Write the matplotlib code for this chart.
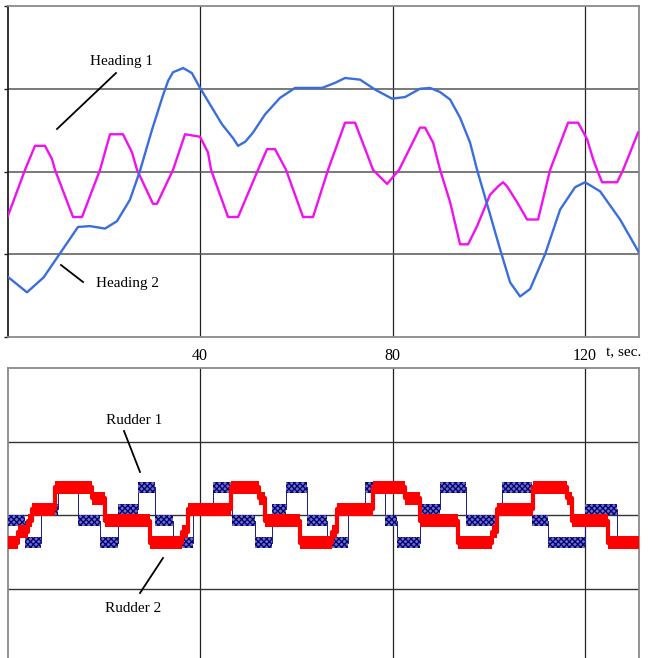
import numpy as np
import matplotlib.pyplot as plt

plt.rcParams['hatch.linewidth'] = 0.9

# Heading curves, t in sec, values in grid units
h1_t = [0, 3.64, 5.71, 7.79, 9.25, 9.87, 13.61, 15.48, 19.22, 21.3, 24.0, 25.87, 26.91,
        30.23, 31.06, 34.39, 36.88, 40.0, 41.66, 42.29, 45.82, 47.9, 52.05, 53.92, 55.58,
        57.87, 61.4, 63.48, 66.6, 70.13, 72.21, 75.95, 78.86, 81.35, 85.71, 86.75, 88.42,
        89.87, 91.95, 94.03, 95.69, 97.56, 100.26, 101.92, 102.96, 103.79, 105.87, 107.95,
        110.23, 112.73, 116.47, 118.55, 120.42, 121.66, 122.49, 123.53, 126.65, 127.9, 131.01]
h1_v = [-0.55, 0.02, 0.31, 0.31, 0.15, 0.02, -0.55, -0.55, 0.02, 0.45, 0.45, 0.23, 0.02,
        -0.39, -0.39, 0.02, 0.45, 0.42, 0.23, 0.02, -0.55, -0.55, 0.02, 0.27, 0.27,
        0.02, -0.55, -0.55, 0.02, 0.59, 0.59, 0.02, -0.15, 0.02, 0.53, 0.53, 0.35,
        0.02, -0.37, -0.88, -0.88, -0.66, -0.28, -0.18, -0.13, -0.18, -0.37, -0.58,
        -0.58, 0.02, 0.59, 0.59, 0.39, 0.15, 0.02, -0.13, -0.13, 0.02, 0.47]

h2_t = [0, 4.05, 7.5, 10.9, 14.65, 17.14, 20.26, 22.75, 25.45, 27.53, 30.0, 32.3, 33.4, 34.4,
        36.5, 38.3, 40.0, 42.08, 44.57, 46.9, 47.9, 49.4, 51.0, 53.51, 56.62, 59.74, 65.35,
        68.0, 70.13, 73.25, 76.36, 79.9, 82.6, 85.71, 87.79, 89.87, 91.95, 94.03, 96.1, 97.56,
        100.26, 102.34, 104.42, 106.49, 108.57, 111.69, 114.81, 117.92, 120.0, 123.12,
        127.27, 131.2]
h2_v = [-1.27, -1.46, -1.28, -0.99, -0.67, -0.66, -0.69, -0.6, -0.34, 0.01, 0.5, 0.92, 1.1,
        1.2, 1.25, 1.19, 1.01, 0.81, 0.57, 0.4, 0.31, 0.36, 0.47, 0.69, 0.89, 1.01, 1.01,
        1.07, 1.13, 1.11, 0.99, 0.88, 0.9, 1.0, 1.01, 0.96, 0.87, 0.65, 0.35, 0.02,
        -0.52, -0.94, -1.34, -1.51, -1.42, -1.0, -0.46, -0.19, -0.13, -0.24,
        -0.58, -0.98]

# Rudder signals (step levels)
r1_t = [0, 3.6, 7.0, 10.5, 14.6, 19.2, 23.0, 27.1, 30.6, 34.4, 38.5, 42.7, 46.6, 51.4, 55.0,
        57.9, 62.2, 66.4, 70.8, 74.3, 78.4, 80.9, 85.7, 89.9, 95.3, 101.9, 102.8, 109.0,
        112.3, 120.0, 126.6, 131.2]
r1_v = [-0.075, -0.375, 0.075, 0.375, -0.075, -0.375, 0.075, 0.375, -0.075, -0.375, 0.075,
        0.375, -0.075, -0.375, 0.075, 0.375, -0.075, -0.375, 0.075, 0.375, -0.075, -0.375,
        0.075, 0.375, -0.075, 0.075, 0.375, -0.075, -0.375, 0.075, -0.375, -0.375]

r2_t = [0, 2.2, 4.3, 5.1, 9.9, 17.6, 20.3, 29.6, 36.3, 37.5, 46.4, 52.3, 53.5, 60.8, 67.4,
        68.5, 75.9, 82.6, 85.7, 93.6, 100.7, 101.7, 109.2, 116.3, 117.3, 124.8, 131.2]
r2_v = [-0.375, -0.225, -0.075, 0.075, 0.375, 0.225, -0.075, -0.375, -0.225, 0.075, 0.375,
        0.225, -0.075, -0.375, -0.225, 0.075, 0.375, 0.225, -0.075, -0.375, -0.225, 0.075,
        0.375, 0.225, -0.075, -0.375, -0.375]

xticks = [40, 80, 120]
serif = 'Liberation Serif'

fig = plt.figure(figsize=(6.51, 6.58), dpi=100)
W, H = 651, 658
ax1 = fig.add_axes([7.5 / W, 1 - 337 / H, (639 - 7.5) / W, 331 / H])
ax2 = fig.add_axes([7.5 / W, 0, (639 - 7.5) / W, 290 / H])

for ax in (ax1, ax2):
    ax.set_xlim(0, 131.2)
    ax.set_xticks(xticks)
    for s in ['top', 'right', 'bottom', 'left']:
        ax.spines[s].set_color('#8a8a8a')
        ax.spines[s].set_linewidth(1.3)
    for xv in xticks:
        ax.axvline(xv, color='#222222', lw=0.9, zorder=1)

# top panel
ax1.set_ylim(-2, 2)
ax1.set_yticks([-2, -1, 0, 1, 2])
ax1.set_yticklabels([])
for yv in [-1, 0, 1]:
    ax1.axhline(yv, color='#555555', lw=1.1, zorder=1)
ax1.spines['left'].set_color('#222222')
ax1.tick_params(axis='y', length=3, width=1, color='#222222', direction='out')
ax1.tick_params(axis='x', length=0, pad=8)
ax1.set_xticklabels([str(v) for v in xticks], fontfamily=serif, fontsize=11.5)

ax1.plot(h1_t, h1_v, color='#f010f0', lw=1.7, zorder=3)
ax1.plot(h2_t, h2_v, color='#3a6ede', lw=1.7, zorder=4)

fig.text(121 / W, 1 - 62 / H, 'Heading 1', ha='center', va='center', fontfamily=serif, fontsize=11)
fig.text(128 / W, 1 - 283 / H, 'Heading 2', ha='center', va='center', fontfamily=serif, fontsize=11)
fig.text(624 / W, 1 - 353 / H, 't, sec.', ha='center', va='center', fontfamily=serif, fontsize=11)
fig.text(134 / W, 1 - 420 / H, 'Rudder 1', ha='center', va='center', fontfamily=serif, fontsize=11)
fig.text(133 / W, 1 - 608 / H, 'Rudder 2', ha='center', va='center', fontfamily=serif, fontsize=11)


def pointer(x0, y0, x1, y1):
    fig.add_artist(plt.Line2D([x0 / W, x1 / W], [1 - y0 / H, 1 - y1 / H],
                              color='black', lw=1.3, transform=fig.transFigure))


pointer(116, 73, 57, 129)
pointer(61, 265, 83, 282)
pointer(124, 431, 140, 472)
pointer(163, 558, 140, 593)

# bottom panel
ax2.set_ylim(2 - 290 / 73.5, 2)
ax2.set_yticks([])
ax2.set_xticklabels([])
ax2.tick_params(axis='x', length=0)
ax2.spines['bottom'].set_visible(False)
for yv in [-1, 0, 1]:
    ax2.axhline(yv, color='#333333', lw=1.0, zorder=1)

# rudder 1: thin step line with chattering band
r1v = np.array(r1_v)
ax2.plot(r1_t, r1_v, color='#1a1a8a', lw=0.7, drawstyle='steps-post', zorder=3)
ax2.fill_between(r1_t, r1v - 0.072, r1v + 0.072, step='post', facecolor='#6f6fb5',
                 edgecolor='#000080', hatch='xxxxxx', linewidth=0, zorder=3)

# rudder 2: thick red band
r2v = np.array(r2_v)
ax2.fill_between(r2_t, r2v - 0.085, r2v + 0.085, step='post', color='#ff0000',
                 linewidth=0, zorder=4)
ax2.plot(r2_t, r2_v, color='#ff0000', lw=3, drawstyle='steps-post', zorder=4)

fig.savefig('out.png', dpi=100)
